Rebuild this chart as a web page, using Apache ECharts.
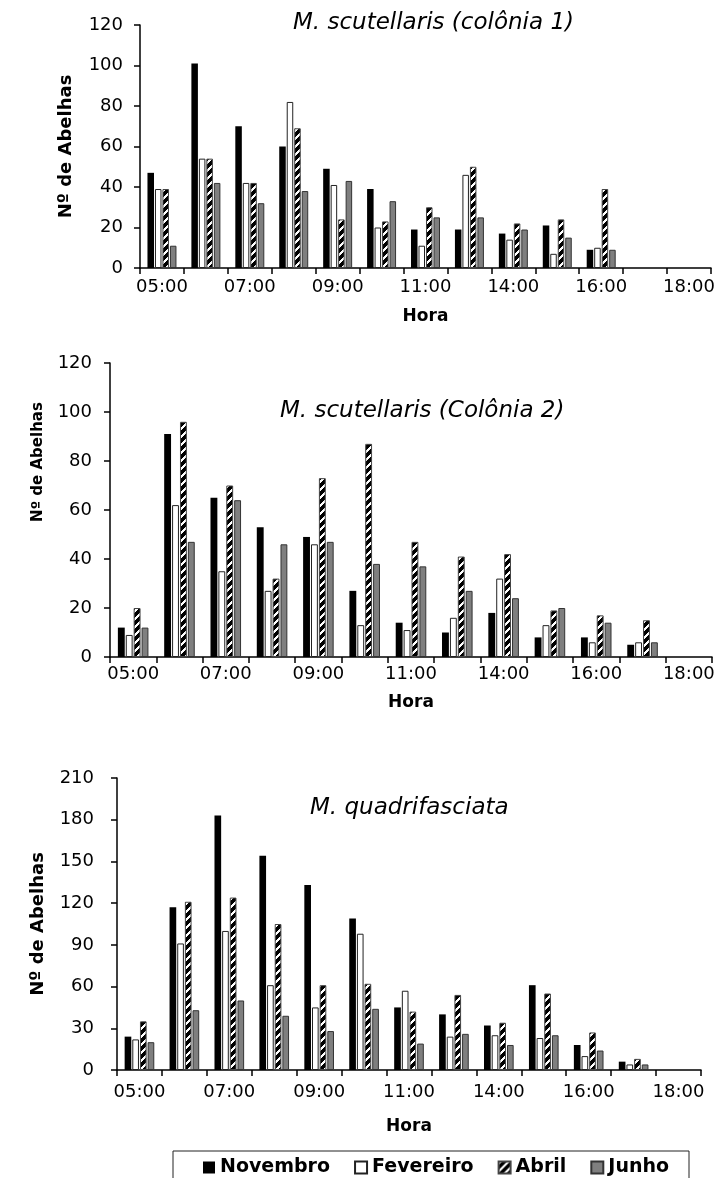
<!DOCTYPE html>
<html>
<head>
<meta charset="utf-8">
<script src="https://cdn.jsdelivr.net/npm/echarts@6/dist/echarts.min.js"></script>
<style>
  html, body { margin: 0; padding: 0; background: #fff; }
  #chart { width: 718px; height: 1178px; }
</style>
</head>
<body>
<div id="chart"></div>
<script>
// Hourly foraging counts (number of bees) per month, three colonies.
const hours = ['05:00', '06:00', '07:00', '08:00', '09:00', '10:00', '11:00',
               '13:00', '14:00', '15:00', '16:00', '17:00', '18:00'];
const months = ['Novembro', 'Fevereiro', 'Abril', 'Junho'];

// M. scutellaris (colônia 1)
const col1Nov = [47, 101, 70, 60, 49, 39, 19, 19, 17, 21, 9, null, null];
const col1Fev = [39, 54, 42, 82, 41, 20, 11, 46, 14, 7, 10, null, null];
const col1Abr = [39, 54, 42, 69, 24, 23, 30, 50, 22, 24, 39, null, null];
const col1Jun = [11, 42, 32, 38, 43, 33, 25, 25, 19, 15, 9, null, null];

// M. scutellaris (Colônia 2)
const col2Nov = [12, 91, 65, 53, 49, 27, 14, 10, 18, 8, 8, 5, null];
const col2Fev = [9, 62, 35, 27, 46, 13, 11, 16, 32, 13, 6, 6, null];
const col2Abr = [20, 96, 70, 32, 73, 87, 47, 41, 42, 19, 17, 15, null];
const col2Jun = [12, 47, 64, 46, 47, 38, 37, 27, 24, 20, 14, 6, null];

// M. quadrifasciata
const quaNov = [24, 117, 183, 154, 133, 109, 45, 40, 32, 61, 18, 6, null];
const quaFev = [22, 91, 100, 61, 45, 98, 57, 24, 25, 23, 10, 4, null];
const quaAbr = [35, 121, 124, 105, 61, 62, 42, 54, 34, 55, 27, 8, null];
const quaJun = [20, 43, 50, 39, 28, 44, 19, 26, 18, 25, 14, 4, null];

const panelTitles = ['M. scutellaris (colônia 1)', 'M. scutellaris (Colônia 2)', 'M. quadrifasciata'];
const yName = 'Nº de Abelhas';
const xName = 'Hora';

const FONT = 'DejaVu Sans';

// black/white diagonal hatch used for the "Abril" bars
function hatch() {
  const c = document.createElement('canvas');
  c.width = 8; c.height = 8;
  const g = c.getContext('2d');
  g.fillStyle = '#000';
  g.fillRect(0, 0, 8, 8);
  g.fillStyle = '#fff';
  for (let x = 0; x < 8; x++) {
    for (let y = 0; y < 8; y++) {
      if ((x + y) % 8 < 3) g.fillRect(x, y, 1, 1);
    }
  }
  return c;
}

const monthStyles = [
  { color: '#000000', borderColor: '#000000', borderWidth: 0 },
  { color: '#ffffff', borderColor: '#222222', borderWidth: 1 },
  { color: { image: hatch(), repeat: 'repeat' }, borderColor: '#444444', borderWidth: 1 },
  { color: '#7f7f7f', borderColor: '#333333', borderWidth: 1 }
];

const panels = [
  { data: [col1Nov, col1Fev, col1Abr, col1Jun], max: 120, step: 20,
    grid: { left: 140, top: 25, width: 571, height: 243 },
    yLabelMargin: 17, xLabelMargin: 10, yNameGap: 65, yNameSize: 18, yNamePad: 0, xNameGap: 40,
    title: { left: 293, top: 12 } },
  { data: [col2Nov, col2Fev, col2Abr, col2Jun], max: 120, step: 20,
    grid: { left: 110, top: 363, width: 602, height: 294 },
    yLabelMargin: 18, xLabelMargin: 8, yNameGap: 64, yNameSize: 15, yNamePad: 96, xNameGap: 37,
    title: { left: 280, top: 400 } },
  { data: [quaNov, quaFev, quaAbr, quaJun], max: 210, step: 30,
    grid: { left: 117, top: 778, width: 584, height: 292 },
    yLabelMargin: 23, xLabelMargin: 13, yNameGap: 70, yNameSize: 18, yNamePad: 0, xNameGap: 48,
    title: { left: 310, top: 797 } }
];

const axisLine = { show: true, lineStyle: { color: '#000', width: 1.5 } };
const axisTick = { show: true, inside: false, length: 6, lineStyle: { color: '#000', width: 1.5 } };

const option = {
  animation: false,
  backgroundColor: '#fff',
  textStyle: { fontFamily: FONT, color: '#000' },
  title: panels.map((p, i) => ({
    text: panelTitles[i],
    left: p.title.left, top: p.title.top, padding: 0,
    textStyle: { fontFamily: FONT, fontStyle: 'italic', fontWeight: 'normal', fontSize: 23, color: '#000' }
  })),
  legend: {
    data: months,
    left: 173, top: 1151,
    orient: 'horizontal',
    icon: 'rect',
    itemWidth: 12, itemHeight: 12, itemGap: 24,
    padding: [7, 20, 10, 30],
    borderColor: '#222', borderWidth: 1,
    selectedMode: false,
    textStyle: { fontFamily: FONT, fontWeight: 'bold', fontSize: 19, color: '#000' }
  },
  grid: panels.map(p => Object.assign({ containLabel: false, outerBoundsMode: 'none' }, p.grid)),
  xAxis: panels.map((p, i) => ({
    type: 'category', gridIndex: i, data: hours, boundaryGap: true,
    axisLine: axisLine,
    axisTick: Object.assign({ interval: 0 }, axisTick),
    axisLabel: { interval: 1, margin: p.xLabelMargin, color: '#000', fontFamily: FONT, fontSize: 18 },
    splitLine: { show: false },
    name: xName, nameLocation: 'middle', nameGap: p.xNameGap,
    nameTextStyle: { fontFamily: FONT, fontWeight: 'bold', fontSize: 17, color: '#000' }
  })),
  yAxis: panels.map((p, i) => ({
    type: 'value', gridIndex: i, min: 0, max: p.max, interval: p.step,
    axisLine: axisLine, axisTick: axisTick,
    axisLabel: { margin: p.yLabelMargin, color: '#000', fontFamily: FONT, fontSize: 18 },
    splitLine: { show: false },
    name: yName, nameLocation: 'middle', nameRotate: 90, nameGap: p.yNameGap,
    nameTextStyle: { fontFamily: FONT, fontWeight: 'bold', fontSize: p.yNameSize, color: '#000',
                     padding: [0, 0, 0, p.yNamePad] }
  })),
  series: []
};

panels.forEach((p, i) => {
  p.data.forEach((vals, m) => {
    option.series.push({
      type: 'bar', name: months[m],
      xAxisIndex: i, yAxisIndex: i,
      data: vals,
      barGap: '15%', barCategoryGap: '34%',
      itemStyle: monthStyles[m],
      emphasis: { disabled: true }
    });
  });
});

const chart = echarts.init(document.getElementById('chart'), null, { renderer: 'canvas' });
chart.setOption(option);
</script>
</body>
</html>
